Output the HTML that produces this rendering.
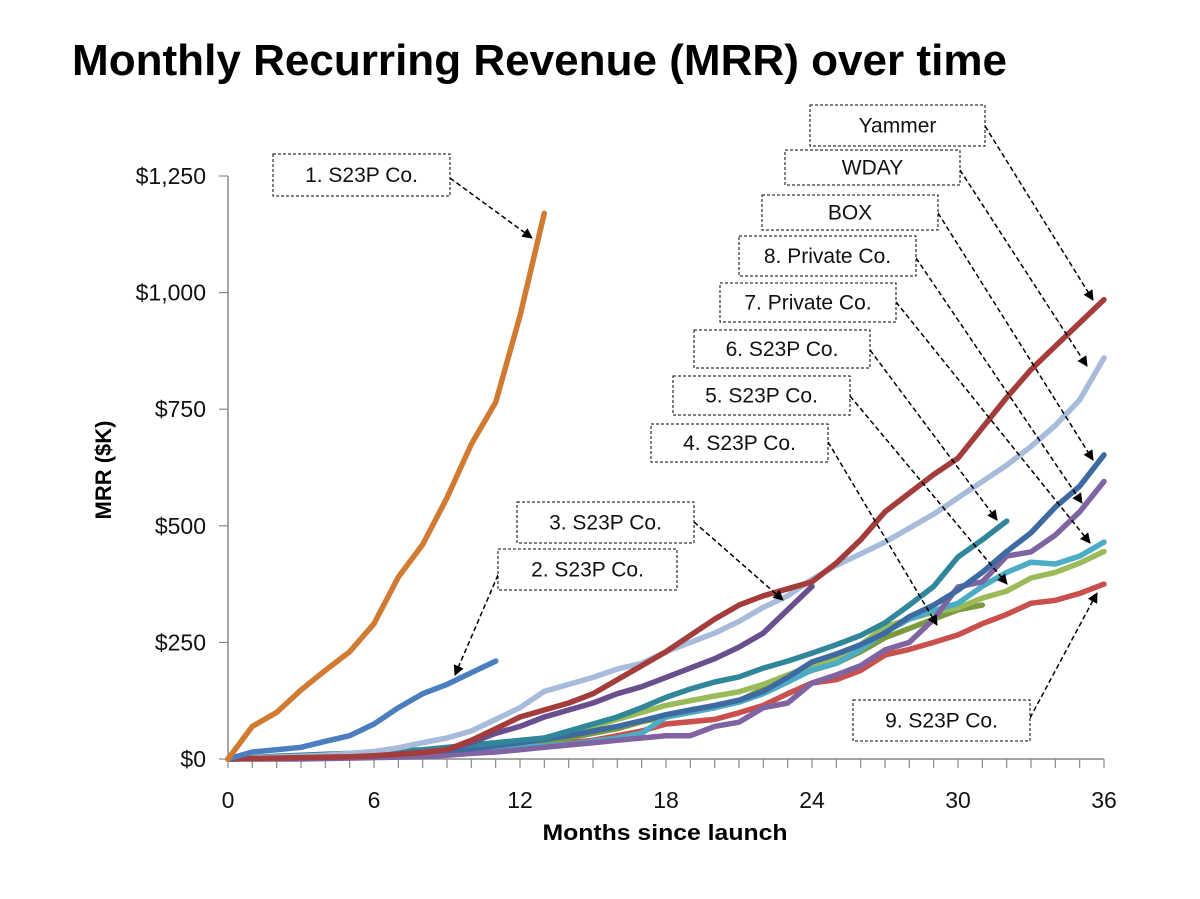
<!DOCTYPE html>
<html><head><meta charset="utf-8"><style>
body{margin:0;background:#fff}
svg{display:block;font-family:"Liberation Sans",sans-serif}
</style></head><body>
<svg id="chart" width="1200" height="899" viewBox="0 0 1200 899">
<defs><marker id="ah" viewBox="0 0 10 10" refX="9" refY="5" markerWidth="7" markerHeight="7" orient="auto"><path d="M0,0L10,5L0,10z" fill="#000"/></marker></defs>
<text x="72" y="75" font-size="44" font-weight="bold" textLength="935" lengthAdjust="spacingAndGlyphs">Monthly Recurring Revenue (MRR) over time</text>
<text x="665" y="840" font-size="22" font-weight="bold" text-anchor="middle" textLength="245" lengthAdjust="spacingAndGlyphs">Months since launch</text>
<text transform="translate(111,470) rotate(-90)" font-size="22" font-weight="bold" text-anchor="middle">MRR ($K)</text>
<g id="axes"></g><g id="series"></g><g id="notes"></g>
</svg>
<script>
const months=[...Array(37).keys()];
const xTicks=[0,6,12,18,24,30,36];
const yTicks=[0,250,500,750,1000,1250];
const yTickLabels=["$0","$250","$500","$750","$1,000","$1,250"];
const N=null;
const s1=[0,70,100,148,190,230,290,390,460,560,675,765,950,1170];
const s2=[0,15,20,25,38,50,75,110,140,160,185,210];
const sWDAY=[0,2,4,6,8,12,16,24,35,45,60,85,110,145,160,175,193,205,230,250,270,295,325,350,385,415,440,465,495,525,560,595,630,670,715,770,860];
const sYammer=[0,1,2,3,4,5,7,10,14,20,40,65,90,105,120,140,170,200,230,265,300,330,350,365,380,420,470,530,570,610,645,710,775,835,885,935,985];
const s3=[0,1,2,3,4,5,7,10,14,20,35,55,70,90,105,120,140,155,175,195,215,240,270,320,370];
const sBOX=[0,2,4,6,8,10,12,14,16,18,22,28,35,42,50,60,70,82,95,105,115,126,145,175,208,225,245,270,305,330,362,400,445,485,540,585,652];
const s8=[0,0,0,0,1,2,3,4,5,8,12,15,20,25,30,35,40,45,50,50,70,79,110,120,163,180,200,234,250,300,369,380,435,444,480,530,595];
const s7=[N,N,N,N,N,N,N,N,N,N,20,22,25,28,32,38,45,55,90,100,110,122,140,165,191,205,235,272,300,318,334,370,400,422,418,435,465];
const s6=[0,3,6,8,10,12,15,18,20,25,30,35,40,45,60,75,90,110,132,150,165,176,195,210,227,245,265,292,330,370,433,470,510];
const s5=[0,2,4,6,8,10,12,15,18,22,28,32,36,45,55,70,85,100,115,125,135,144,160,180,201,215,245,283,300,315,324,345,360,388,400,420,445];
const s4=[0,1,2,3,5,7,9,12,15,18,22,26,30,36,45,55,65,80,90,100,110,125,150,170,190,205,230,260,280,300,320,330];
const s9=[0,1,2,3,4,5,7,9,12,15,18,22,26,30,35,40,50,60,75,80,85,99,115,140,163,170,190,223,235,250,266,290,310,334,340,355,375];
const seriesList=[[s9,"#c9504c"],[s4,"#7b9a3f"],[s5,"#9bbb59"],[s7,"#4bacc6"],[s8,"#8064a2"],[sBOX,"#3d6aa0"],[s6,"#31879a"],[s3,"#6a4f8f"],[sWDAY,"#a7bbda"],[sYammer,"#a33c3a"],[s2,"#4a7ebf"],[s1,"#d07a32"]];
const seriesNames=["s23p-9","s23p-4","s23p-5","private-7","private-8","box","s23p-6","s23p-3","wday","yammer","s23p-2","s23p-1"];
const X=m=>228+m*(876/36), Y=v=>759-v*(583/1250);
const NS="http://www.w3.org/2000/svg";
function mk(t,a,p){const e=document.createElementNS(NS,t);for(const k in a)e.setAttribute(k,a[k]);p.appendChild(e);return e;}
const ax=document.getElementById('axes');
let l=mk('line',{x1:228,y1:176,x2:228,y2:759,stroke:'#888','stroke-width':1.5},ax);


l=mk('line',{x1:228,y1:759,x2:1104,y2:759,stroke:'#888','stroke-width':1.5},ax);


months.forEach(m=>{mk('line',{x1:X(m),y1:759,x2:X(m),y2:768,stroke:'#888','stroke-width':1.2},ax);});
yTicks.forEach((v,i)=>{mk('line',{x1:219,y1:Y(v),x2:228,y2:Y(v),stroke:'#888','stroke-width':1.2},ax);
const t=mk('text',{x:206,y:Y(v)+8,'font-size':23,'text-anchor':'end',fill:'#111'},ax);t.textContent=yTickLabels[i];

});
xTicks.forEach(m=>{const t=mk('text',{x:X(m),y:808,'font-size':23,'text-anchor':'middle',fill:'#111'},ax);t.textContent=m;

});
const sg=document.getElementById('series');
seriesList.forEach(([d,c],i)=>{let pts=[];d.forEach((v,m)=>{if(v!==null)pts.push(X(m).toFixed(1)+','+Y(v).toFixed(1));});
const p=mk('polyline',{points:pts.join(' '),fill:'none',stroke:c,'stroke-width':5.5,'stroke-linejoin':'round','stroke-linecap':'round'},sg);

});
const notes=[["1. S23P Co.",273,154,177,42,450,178,532,238],["Yammer",810,105,175,41,985,126,1093,300],["WDAY",785,150,175,35,960,170,1087,366],["BOX",762,195,176,35,938,213,1093,460],["8. Private Co.",739,236,177,40,916,258,1082,503],["7. Private Co.",720,283,176,39,896,302,1090,543],["6. S23P Co.",694,330,176,38,870,350,997,520],["5. S23P Co.",673,376,177,39,850,396,1007,584],["4. S23P Co.",651,424,177,38,828,442,937,625],["3. S23P Co.",517,502,177,41,694,522,783,600],["2. S23P Co.",498,549,179,41,498,575,455,675],["9. S23P Co.",853,700,177,41,1030,718,1097,593]];
const ng=document.getElementById('notes');
notes.forEach(n=>{const g=mk('g',{},ng);


mk('line',{x1:n[5],y1:n[6],x2:n[7],y2:n[8],stroke:'#000','stroke-width':1.5,'stroke-dasharray':'5,3','marker-end':'url(#ah)'},g);
mk('rect',{x:n[1],y:n[2],width:n[3],height:n[4],fill:'#fff',stroke:'#000','stroke-width':1,'stroke-dasharray':'3,2'},g);
const t=mk('text',{x:n[1]+n[3]/2,y:n[2]+n[4]/2+7,'font-size':21,'text-anchor':'middle',fill:'#111'},g);t.textContent=n[0];});
</script>
</body></html>
